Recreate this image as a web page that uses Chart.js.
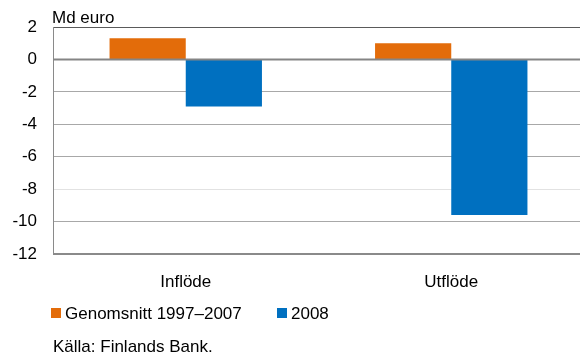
<!DOCTYPE html>
<html>
<head>
<meta charset="utf-8">
<script src="https://cdn.jsdelivr.net/npm/chart.js@4/dist/chart.umd.min.js"></script>
<style>
  html, body { margin: 0; padding: 0; background: #fff; }
  #wrap { width: 580px; height: 356px; overflow: hidden; }
</style>
</head>
<body>
<div id="wrap"><canvas id="flows" width="584" height="356"></canvas></div>
<script>
const categories = ['Inflöde', 'Utflöde'];
const seriesNames = ['Genomsnitt 1997–2007', '2008'];
const avgValues = [1.3, 1.0];
const values2008 = [-2.9, -9.6];
const yMin = -12;
const yMax = 2;
const yStep = 2;

const FONT = '"Liberation Sans", Arial, sans-serif';
const ORANGE = '#e36c0a';
const BLUE = '#0070c0';

// legend, unit label, source line and zero line drawn by hand
const extras = {
    id: 'extras',
    afterDatasetsDraw(chart) {
        const ctx = chart.ctx;
        const y = chart.scales.y;
        const area = chart.chartArea;
        const y0 = y.getPixelForValue(0);
        ctx.save();
        ctx.strokeStyle = '#858585';
        ctx.lineWidth = 2;
        ctx.beginPath();
        ctx.moveTo(area.left, y0);
        ctx.lineTo(area.right, y0);
        ctx.stroke();
        ctx.restore();
    },
    afterDraw(chart) {
        const ctx = chart.ctx;
        ctx.save();
        ctx.font = '17px ' + FONT;
        ctx.fillStyle = '#000';
        ctx.textBaseline = 'middle';
        ctx.textAlign = 'left';
        ctx.fillText('Md euro', 52, 18);

        const items = [
            { x: 51, color: ORANGE, label: seriesNames[0] },
            { x: 277, color: BLUE, label: seriesNames[1] }
        ];
        items.forEach(it => {
            ctx.fillStyle = it.color;
            ctx.fillRect(it.x, 308, 10, 10);
            ctx.fillStyle = '#000';
            ctx.fillText(it.label, it.x + 14, 314);
        });

        ctx.fillText('Källa: Finlands Bank.', 53, 347);
        ctx.restore();
    }
};

function gridColor(c) {
    const v = c.tick ? c.tick.value : null;
    if (v === yMax) return '#5a5a5a';
    if (v === 0) return 'rgba(0,0,0,0)';
    if (v === -8) return '#e2e2e2';
    if (v === yMin) return '#8a8a8a';
    return '#a8a8a8';
}

function gridWidth(c) {
    const v = c.tick ? c.tick.value : null;
    if (v === yMin) return 2;
    return 1;
}

new Chart(document.getElementById('flows'), {
    type: 'bar',
    data: {
        labels: categories,
        datasets: [
            {
                label: seriesNames[0],
                data: avgValues,
                backgroundColor: ORANGE
            },
            {
                label: seriesNames[1],
                data: values2008,
                backgroundColor: BLUE
            }
        ]
    },
    options: {
        responsive: false,
        animation: false,
        categoryPercentage: 0.574,
        barPercentage: 1,
        layout: { padding: { top: 27, left: 0, right: 0, bottom: 62 } },
        plugins: {
            legend: { display: false },
            tooltip: { enabled: false }
        },
        scales: {
            x: {
                grid: { display: false, drawTicks: false },
                border: { display: false },
                ticks: {
                    color: '#000',
                    font: { family: FONT, size: 17 },
                    padding: 18
                },
                afterFit(s) { s.height = 40; }
            },
            y: {
                min: yMin,
                max: yMax,
                ticks: {
                    stepSize: yStep,
                    color: '#000',
                    font: { family: FONT, size: 17 },
                    padding: 16
                },
                grid: {
                    drawTicks: false,
                    color: gridColor,
                    lineWidth: gridWidth
                },
                border: { color: '#8a8a8a', width: 1 },
                afterFit(s) { s.width = 53; }
            }
        }
    },
    plugins: [extras]
});
</script>
</body>
</html>
